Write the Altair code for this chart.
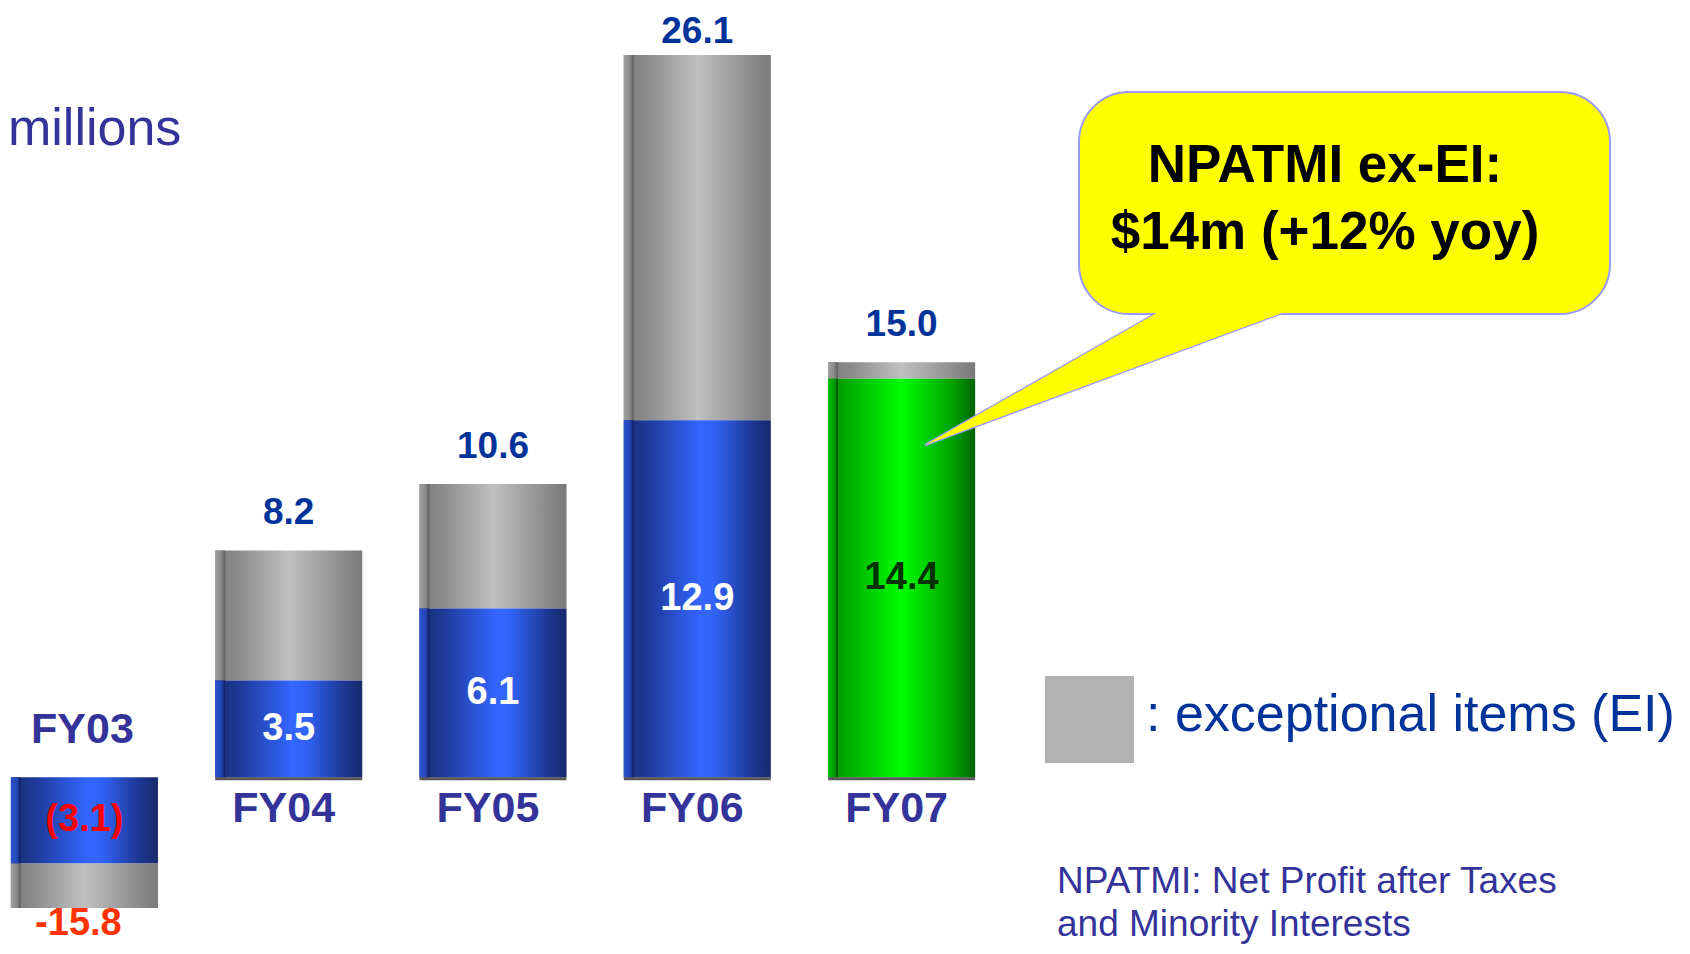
import altair as alt
import pandas as pd

# ---------------- data ----------------
years = ["FY03", "FY04", "FY05", "FY06", "FY07"]
npatmi_ex_ei = [-3.1, 3.5, 6.1, 12.9, 14.4]
npatmi_total = [-15.8, 8.2, 10.6, 26.1, 15.0]

unit_label = "millions"
legend_label = ": exceptional items (EI)"
callout_line1 = "NPATMI ex-EI:"
callout_line2 = "$14m (+12% yoy)"
footnote_line1 = "NPATMI: Net Profit after Taxes"
footnote_line2 = "and Minority Interests"

df = pd.DataFrame({"year": years, "net": npatmi_ex_ei, "total": npatmi_total})
one = pd.DataFrame({"k": [0]})

# ---------------- layout ----------------
W = 970
H = 900
Y_DOMAIN = [-4.72, 27.8]
FONT = "Liberation Sans"

def grad(stops):
    return alt.LinearGradient(
        gradient="linear",
        stops=[alt.GradientStop(color=c, offset=o) for o, c in stops],
        x1=0, x2=1, y1=0, y2=0,
    )

blue_grad = grad([(0, "#182b73"), (0.18, "#1f3b9c"), (0.52, "#3366ff"), (0.62, "#3063f5"), (0.88, "#1d3590"), (1, "#172a6c")])
gray_grad = grad([(0, "#7c7c7c"), (0.15, "#8a8a8a"), (0.5, "#c0c0c0"), (0.85, "#8e8e8e"), (1, "#7a7a7a")])
green_grad = grad([(0, "#008a00"), (0.15, "#00b000"), (0.5, "#00ff00"), (0.85, "#00a000"), (1, "#006400")])
blue_side = grad([(0, "#2d52cc"), (0.6, "#2447b8"), (1, "#0e1c5c")])
gray_side = grad([(0, "#a0a0a0"), (0.6, "#8a8a8a"), (1, "#5e5e5e")])
green_side = grad([(0, "#00c000"), (0.6, "#00a000"), (1, "#005000")])

xs = alt.X("year:N", sort=years, axis=None,
           scale=alt.Scale(paddingInner=0.28, paddingOuter=0.014))
ysc = alt.Scale(domain=Y_DOMAIN, nice=False, zero=False)

def Y(field):
    return alt.Y(field, scale=ysc, axis=None)

base = alt.Chart(df)
SIDE_W = 10
SIDE_OFF = -68.55

core_blue = base.transform_filter("datum.year != 'FY07'").transform_calculate(zero="0")
core_green = base.transform_filter("datum.year == 'FY07'").transform_calculate(zero="0")

blue = core_blue.mark_bar(color=blue_grad, clip=True).encode(x=xs, y=Y("net:Q"), y2="zero:Q")
blue_s = core_blue.mark_bar(color=blue_side, clip=True, width=SIDE_W, xOffset=SIDE_OFF).encode(x=xs, y=Y("net:Q"), y2="zero:Q")
green = core_green.mark_bar(color=green_grad, clip=True).encode(x=xs, y=Y("net:Q"), y2="zero:Q")
green_s = core_green.mark_bar(color=green_side, clip=True, width=SIDE_W, xOffset=SIDE_OFF).encode(x=xs, y=Y("net:Q"), y2="zero:Q")
gray = base.mark_bar(color=gray_grad, clip=True).encode(x=xs, y=Y("net:Q"), y2="total:Q")
gray_s = base.mark_bar(color=gray_side, clip=True, width=SIDE_W, xOffset=SIDE_OFF).encode(x=xs, y=Y("net:Q"), y2="total:Q")

base_line = base.transform_filter("datum.net > 0").transform_calculate(zero="0").mark_tick(
    orient="horizontal", size=147, thickness=3, color="#111111", yOffset=1.5
).encode(x=xs, y=Y("zero:Q"))

# inside values
inside = base.transform_calculate(
    mid="datum.net / 2",
    lbl="datum.net < 0 ? '(' + format(-datum.net, '.1f') + ')' : format(datum.net, '.1f')",
).mark_text(fontSize=38, fontWeight="bold", font=FONT, baseline="middle").encode(
    x=xs, y=Y("mid:Q"), text="lbl:N",
    color=alt.when(alt.datum.net < 0).then(alt.value("#ff0000"))
    .when(alt.datum.year == "FY07").then(alt.value("#003300"))
    .otherwise(alt.value("#ffffff")),
)

tot_fmt = base.transform_calculate(
    tl="datum.total < 0 ? '-' + format(-datum.total, '.1f') : format(datum.total, '.1f')"
)
tot_mid = tot_fmt.transform_filter("datum.total > 0 && datum.total < 20").mark_text(
    fontSize=37, fontWeight="bold", font=FONT, color="#003399", baseline="middle", dy=-37
).encode(x=xs, y=Y("total:Q"), text="tl:N")
tot_top = tot_fmt.transform_filter("datum.total >= 20").mark_text(
    fontSize=37, fontWeight="bold", font=FONT, color="#003399", baseline="middle", dy=-23
).encode(x=xs, y=Y("total:Q"), text="tl:N")
tot_neg = tot_fmt.transform_filter("datum.total < 0").mark_text(
    fontSize=38, fontWeight="bold", font=FONT, color="#ff3300", baseline="middle", dy=16, dx=-6
).encode(x=xs, y=alt.value(H), text="tl:N")

cat_pos = base.transform_filter("datum.net > 0").transform_calculate(zero="0").mark_text(
    fontSize=43, fontWeight="bold", font=FONT, color="#333399", baseline="middle", dy=32, dx=-5
).encode(x=xs, y=Y("zero:Q"), text="year:N")
cat_neg = base.transform_filter("datum.net < 0").transform_calculate(zero="0").mark_text(
    fontSize=43, fontWeight="bold", font=FONT, color="#333399", baseline="middle", dy=-47, dx=-2
).encode(x=xs, y=Y("zero:Q"), text="year:N")

# ---------------- annotations ----------------
def label(text, x, y, size, color, weight="normal", align="left"):
    return alt.Chart(pd.DataFrame({"t": [text]})).mark_text(
        fontSize=size, fontWeight=weight, font=FONT, color=color, align=align, baseline="middle"
    ).encode(x=alt.value(x), y=alt.value(y), text="t:N")

units = label(unit_label, 0, 121, 52, "#333399")

legend_box = alt.Chart(one).mark_rect(color="#b2b2b2").encode(
    x=alt.value(1037), x2=alt.value(1126), y=alt.value(668), y2=alt.value(755))
legend_txt = label(legend_label, 1138, 707, 52, "#003399")

foot1 = label(footnote_line1, 1049, 874, 37, "#333399")
foot2 = label(footnote_line2, 1049, 917, 37, "#333399")

TAIL = "M0.6489,-0.3697L0,0L1,-0.3697"
tail = alt.Chart(one).mark_point(
    shape=TAIL, size=565504, filled=True, fill="#ffff00", stroke="#9999ff",
    strokeWidth=2.5, opacity=1, fillOpacity=1, strokeOpacity=1
).encode(x=alt.value(917), y=alt.value(437))
bubble = alt.Chart(one).mark_rect(
    fill="#ffff00", stroke="#9999ff", strokeWidth=2, cornerRadius=50
).encode(x=alt.value(1071), x2=alt.value(1602), y=alt.value(84), y2=alt.value(306))
tail_cover = alt.Chart(one).mark_point(
    shape=TAIL, size=565504, filled=True, color="#ffff00", strokeWidth=0, opacity=1, fillOpacity=1
).encode(x=alt.value(917), y=alt.value(437))
call1 = label(callout_line1, 1317, 158, 53, "#000000", "bold", "center")
call2 = label(callout_line2, 1317, 225, 53, "#000000", "bold", "center")

chart = alt.layer(
    gray, gray_s, blue, blue_s, green, green_s, base_line,
    inside, tot_mid, tot_top, tot_neg, cat_pos, cat_neg,
    units, legend_box, legend_txt, foot1, foot2,
    tail, bubble, tail_cover, call1, call2,
).properties(
    width=W, height=H,
    padding={"left": 0, "top": 0, "right": 704, "bottom": 38},
    autosize=alt.AutoSizeParams(type="none"),
    background="#ffffff",
).configure_view(stroke=None)

chart.save("out.html", embed_options={"renderer": "svg", "actions": False})
